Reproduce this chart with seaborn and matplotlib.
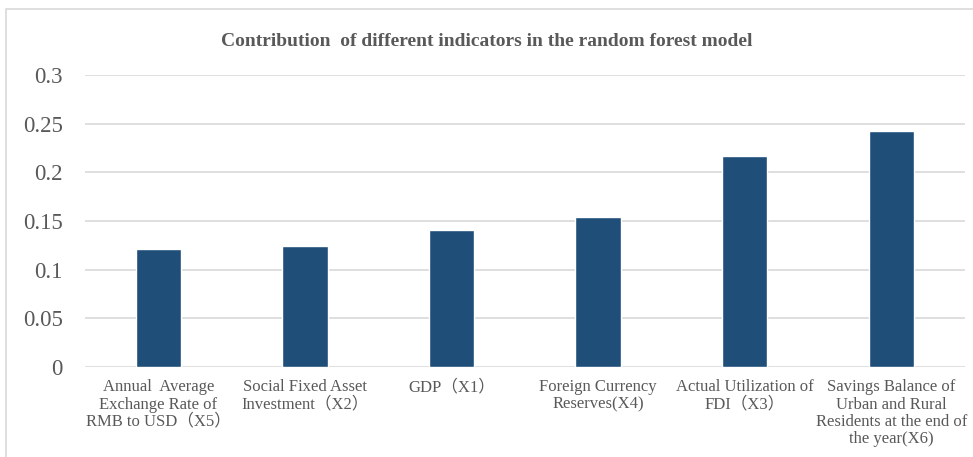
import pandas as pd
import seaborn as sns
import matplotlib.pyplot as plt
from matplotlib.patches import Rectangle

# 1. Datos
indicadores = [
    "Annual  Average\nExchange Rate of\nRMB to USD（X5）",
    "Social Fixed Asset\nInvestment（X2）",
    "GDP（X1）",
    "Foreign Currency\nReserves(X4)",
    "Actual Utilization of\nFDI（X3）",
    "Savings Balance of\nUrban and Rural\nResidents at the end of\nthe year(X6)",
]
contribucion = [0.121, 0.124, 0.141, 0.154, 0.217, 0.242]
y_ticks = [0, 0.05, 0.1, 0.15, 0.2, 0.25, 0.3]
y_labels = ["0", "0.05", "0.1", "0.15", "0.2", "0.25", "0.3"]

df = pd.DataFrame({"Indicador": indicadores, "Contribucion": contribucion})

# 2. Estilo
sns.set_theme(style="white")
plt.rcParams["font.family"] = ["Liberation Serif", "Noto Sans CJK SC"]
gris = "#595959"

fig = plt.figure(figsize=(9.73, 4.57), dpi=100)
ax = fig.add_axes([0.0874, 0.197, 0.904, 0.639])

# 3. Barras
sns.barplot(data=df, x="Indicador", y="Contribucion", color="#1F4E79",
            width=0.31, saturation=1, ax=ax, zorder=3)

# 4. Ejes y cuadrícula
ax.set_ylim(0, 0.3)
ax.set_yticks(y_ticks)
ax.set_yticklabels(y_labels, fontsize=16.5, color=gris)
ax.tick_params(axis="y", length=0, pad=16)
ax.tick_params(axis="x", length=0, pad=9, labelsize=12, labelcolor=gris)
for lbl in ax.get_xticklabels():
    lbl.set_linespacing(1.1)
ax.grid(axis="y", color="#D9D9D9", linewidth=1.2, zorder=0)
ax.set_axisbelow(True)
for s in ax.spines.values():
    s.set_visible(False)
ax.set_xlabel("")
ax.set_ylabel("")

# 5. Título y marco
fig.text(0.5, 0.91, "Contribution  of different indicators in the random forest model",
         ha="center", va="center", fontsize=14, fontweight="bold", color=gris)
fig.patches.append(Rectangle((0.006, -0.01), 1.0, 0.99, transform=fig.transFigure,
                             fill=False, edgecolor="#D9D9D9", linewidth=1.2))

plt.savefig("out.png", dpi=100)
